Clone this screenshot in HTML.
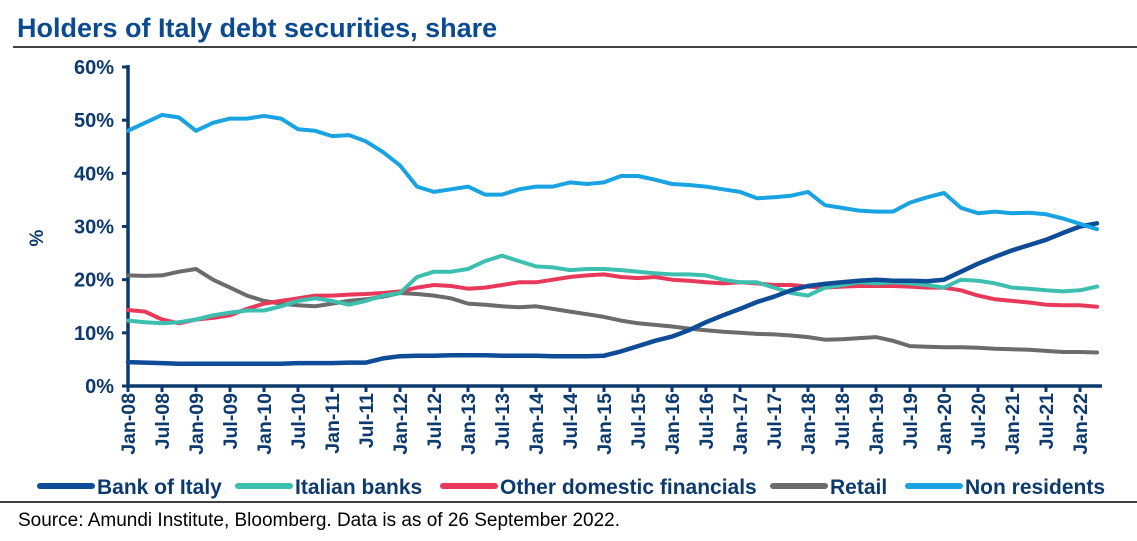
<!DOCTYPE html>
<html><head><meta charset="utf-8"><style>
body{margin:0;background:#fff;width:1137px;height:536px;overflow:hidden;font-family:"Liberation Sans",sans-serif}
</style></head><body>
<svg id="c" width="1137" height="536" xmlns="http://www.w3.org/2000/svg" font-family="Liberation Sans, sans-serif">
<text x="17" y="37" font-size="27" font-weight="bold" fill="#0b4a8f">Holders of Italy debt securities, share</text>
<line x1="13" y1="47" x2="1137" y2="47" stroke="#000" stroke-width="1.5"/>
<line x1="0" y1="502" x2="1137" y2="502" stroke="#000" stroke-width="1.5"/>
<text x="18" y="526" font-size="19" fill="#000">Source: Amundi Institute, Bloomberg. Data is as of 26 September 2022.</text>
<text transform="translate(43,238) rotate(-90)" font-size="19" font-weight="bold" fill="#0d3a6e" text-anchor="middle">%</text>
<g id="axes"></g><g id="series"></g><g id="legend"></g>
</svg>
<script>
const yTicks=[0,10,20,30,40,50,60];
const xLabels=["Jan-08","Jul-08","Jan-09","Jul-09","Jan-10","Jul-10","Jan-11","Jul-11","Jan-12","Jul-12","Jan-13","Jul-13","Jan-14","Jul-14","Jan-15","Jul-15","Jan-16","Jul-16","Jan-17","Jul-17","Jan-18","Jul-18","Jan-19","Jul-19","Jan-20","Jul-20","Jan-21","Jul-21","Jan-22"];
const seriesNames=["Bank of Italy","Italian banks","Other domestic financials","Retail","Non residents"];
const bankOfItaly=[4.5,4.4,4.3,4.2,4.2,4.2,4.2,4.2,4.2,4.2,4.3,4.3,4.3,4.4,4.4,5.2,5.6,5.7,5.7,5.8,5.8,5.8,5.7,5.7,5.7,5.6,5.6,5.6,5.7,6.5,7.5,8.5,9.3,10.5,12,13.3,14.5,15.8,16.8,18,18.8,19.2,19.5,19.8,20,19.8,19.8,19.7,20,21.5,23,24.3,25.5,26.5,27.5,28.8,30,30.6];
const italianBanks=[12.3,12,11.8,12,12.5,13.3,13.8,14.2,14.2,15,16,16.5,16,15.3,16,17,17.5,20.5,21.5,21.5,22,23.5,24.5,23.5,22.5,22.3,21.8,22,22,21.8,21.5,21.2,21,21,20.8,20,19.5,19.5,18.5,17.5,17,18.5,19,19.5,19.3,19.5,19.3,19,18.5,20,19.8,19.3,18.5,18.3,18,17.8,18,18.7];
const otherDomestic=[14.3,14,12.5,11.8,12.5,12.8,13.3,14.5,15.5,16,16.5,17,17,17.2,17.3,17.5,17.8,18.5,19,18.8,18.3,18.5,19,19.5,19.5,20,20.5,20.8,21,20.5,20.3,20.5,20,19.8,19.5,19.3,19.5,19.3,19,19,18.7,18.5,18.7,18.8,18.8,18.8,18.7,18.5,18.5,18,17,16.3,16,15.7,15.3,15.2,15.2,14.9];
const retail=[20.8,20.7,20.8,21.5,22,20,18.5,17,16,15.5,15.2,15,15.5,16,16.3,16.8,17.5,17.3,17,16.5,15.5,15.3,15,14.8,15,14.5,14,13.5,13,12.3,11.8,11.5,11.2,10.8,10.5,10.2,10,9.8,9.7,9.5,9.2,8.7,8.8,9,9.2,8.5,7.5,7.4,7.3,7.3,7.2,7,6.9,6.8,6.6,6.4,6.4,6.3];
const nonResidents=[48,49.5,51,50.5,48,49.5,50.3,50.3,50.8,50.3,48.3,48,47,47.2,46,44,41.5,37.5,36.5,37,37.5,36,36,37,37.5,37.5,38.3,38,38.3,39.5,39.5,38.8,38,37.8,37.5,37,36.5,35.3,35.5,35.8,36.5,34,33.5,33,32.8,32.8,34.5,35.5,36.3,33.5,32.5,32.8,32.5,32.6,32.3,31.5,30.5,29.5];
const NS="http://www.w3.org/2000/svg";
const X0=128,MONTH=34/6,Y0=386,PER=(386-67)/60,XEND=1102;
const xm=m=>X0+m*MONTH; const y=v=>Y0-v*PER;
function mk(t,a,p){const e=document.createElementNS(NS,t);for(const k in a)e.setAttribute(k,a[k]);p.appendChild(e);return e;}
const ax=document.getElementById('axes');
yTicks.forEach(v=>{
 const l=mk('line',{x1:X0-6,x2:X0,y1:y(v),y2:y(v),stroke:'#0d3a6e','stroke-width':3},ax);
 
 
 const t=mk('text',{x:X0-14,y:y(v)+7,'text-anchor':'end','font-size':20,'font-weight':'bold',fill:'#0d3a6e'},ax);
 t.textContent=v+'%';
 
 
});
const ya=mk('line',{x1:X0,x2:X0,y1:y(60)-2,y2:Y0+1,stroke:'#0d3a6e','stroke-width':3.5},ax);


const xa=mk('line',{x1:X0,x2:XEND,y1:Y0,y2:Y0,stroke:'#0d3a6e','stroke-width':3.5},ax);


xLabels.forEach((s,i)=>{
 const x=xm(i*6);
 const l=mk('line',{x1:x,x2:x,y1:Y0,y2:Y0+6,stroke:'#0d3a6e','stroke-width':3},ax);
 
 
 const t=mk('text',{transform:`translate(${x+7},${Y0+7}) rotate(-90)`,'text-anchor':'end','font-size':19.5,'font-weight':'bold',fill:'#0d3a6e'},ax);
 t.textContent=s;
 
 
});
const colors=['#0f4c97','#3dbfb0','#e8395a','#6b6b6b','#19a3e2'];
const widths=[4.5,4,4,4,4];
const data=[bankOfItaly,italianBanks,otherDomestic,retail,nonResidents];
const sg=document.getElementById('series');
[3,2,1,0,4].forEach(k=>{
 const d=data[k].map((v,i)=>(i?'L':'M')+xm(i*3).toFixed(1)+','+y(v).toFixed(1)).join('');
 const p=mk('path',{d:d,fill:'none',stroke:colors[k],'stroke-width':widths[k],'stroke-linejoin':'round','stroke-linecap':'round'},sg);
 
 
});
const lg=document.getElementById('legend');
const lx=[40,238,443,773,908];
seriesNames.forEach((s,k)=>{
 const g=mk('g',{},lg);
 
 
 mk('line',{x1:lx[k],x2:lx[k]+52,y1:486,y2:486,stroke:colors[k],'stroke-width':6,'stroke-linecap':'round'},g);
 const t=mk('text',{x:lx[k]+57,y:494,'font-size':21,'font-weight':'bold',fill:'#0d3a6e'},g);
 t.textContent=s;
});
</script>
</body></html>
